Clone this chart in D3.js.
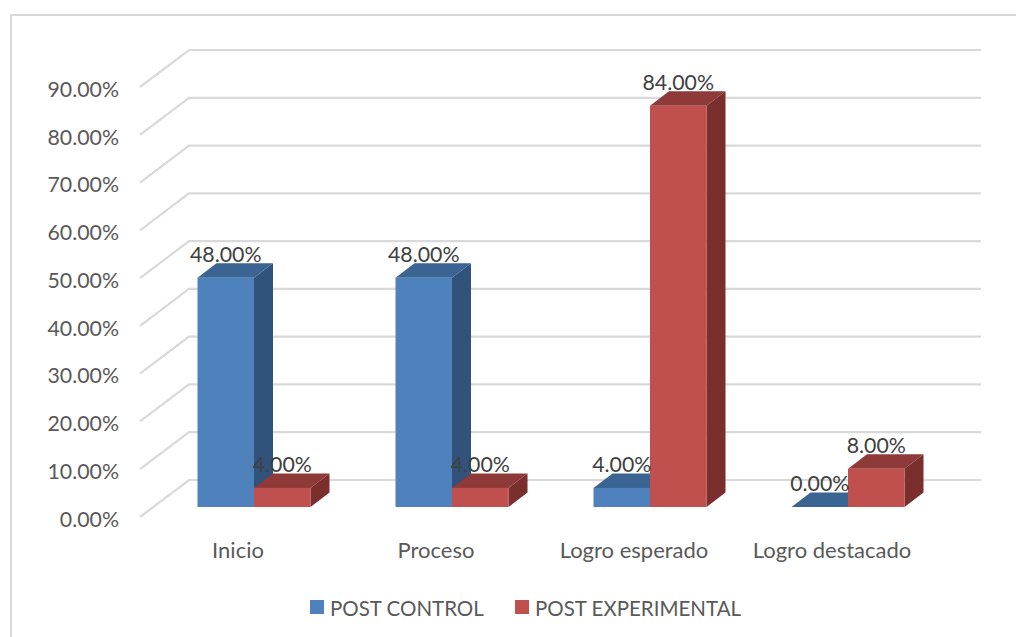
<!DOCTYPE html>
<html>
<head>
<meta charset="utf-8">
<script src="https://cdn.jsdelivr.net/npm/d3@7"></script>
<style>
  html, body { margin: 0; padding: 0; background: #fff; }
  svg { display: block; }
  text { font-family: Lato, "Open Sans", sans-serif; }
</style>
</head>
<body>
<div id="chart"></div>
<script>
const categories = ["Inicio", "Proceso", "Logro esperado", "Logro destacado"];
const postControl = [48, 48, 4, 0];
const postExperimental = [4, 4, 84, 8];
const seriesNames = ["POST CONTROL", "POST EXPERIMENTAL"];
const yTicks = [0, 10, 20, 30, 40, 50, 60, 70, 80, 90];

const width = 1016, height = 637;

// colours: face, top, side
const blue = { face: "#4f81bd", top: "#3a6491", side: "#31527a" };
const red = { face: "#c0504d", top: "#8e3a38", side: "#7b2f2d" };

const svg = d3.select("#chart").append("svg")
    .attr("width", width)
    .attr("height", height);

// outer frame, only top and left show in the picture
svg.append("path")
    .attr("d", d3.line()([[11, height], [11, 15], [width, 15]]))
    .attr("fill", "none")
    .attr("stroke", "#d9d9d9")
    .attr("stroke-width", 2);

// front plane of the 3d box
const x = d3.scaleBand().domain(categories).range([140, 932]);
const y = d3.scaleLinear().domain([0, 90]).range([517, 87]);

// depth of the floor, and where the bars sit in it
const depth = { dx: 49, dy: -37 };
const barFront = { dx: 15, dy: -10 };
const barDepth = { dx: 19, dy: -14.5 };
const barWidth = 56.5;

// gridlines: side wall then back wall
const grid = svg.append("g");
grid.selectAll("path")
  .data(yTicks)
  .join("path")
    .attr("d", d => {
      const p = d3.path();
      p.moveTo(x.range()[0], y(d));
      p.lineTo(x.range()[0] + depth.dx, y(d) + depth.dy);
      p.lineTo(x.range()[1] + depth.dx, y(d) + depth.dy);
      return p.toString();
    })
    .attr("fill", "none")
    .attr("stroke", "#d9d9d9")
    .attr("stroke-width", 2.2);

// y axis
const yAxis = svg.append("g")
    .attr("transform", "translate(126,2.5)")
    .call(d3.axisLeft(y).tickValues(yTicks).tickSize(0).tickPadding(7).tickFormat(d => d3.format(".2f")(d) + "%"));
yAxis.select(".domain").remove();
yAxis.selectAll("text")
    .attr("font-size", 21.3)
    .attr("font-family", 'Lato, "Open Sans", sans-serif')
    .attr("fill", "#595959");

// x axis
const xAxis = svg.append("g")
    .attr("transform", "translate(-1,534)")
    .call(d3.axisBottom(x).tickSize(0).tickPadding(8));
xAxis.select(".domain").remove();
xAxis.selectAll("text")
    .attr("font-size", 22)
    .attr("font-family", 'Lato, "Open Sans", sans-serif')
    .attr("fill", "#595959");

function drawBar(g, left, value, c) {
  const top = y(value) + barFront.dy;
  const bottom = y(0) + barFront.dy;
  const right = left + barWidth;
  const dx = barDepth.dx, dy = barDepth.dy;
  g.append("path")
      .attr("d", `M${right},${top}L${right + dx},${top + dy}L${right + dx},${bottom + dy}L${right},${bottom}Z`)
      .attr("fill", c.side);
  g.append("path")
      .attr("d", `M${left},${top}L${left + dx},${top + dy}L${right + dx},${top + dy}L${right},${top}Z`)
      .attr("fill", c.top);
  g.append("rect")
      .attr("x", left).attr("y", top)
      .attr("width", barWidth).attr("height", bottom - top)
      .attr("fill", c.face);
}

const bars = svg.append("g");
const labels = [];
categories.forEach((cat, i) => {
  const center = x(cat) + x.bandwidth() / 2 + barFront.dx;
  drawBar(bars, center - barWidth, postControl[i], blue);
  drawBar(bars, center, postExperimental[i], red);
  labels.push({ x: center - barWidth / 2, v: postControl[i] });
  labels.push({ x: center + barWidth / 2, v: postExperimental[i] });
});

// data labels go over all the bars
svg.append("g").selectAll("text")
  .data(labels)
  .join("text")
    .attr("x", d => d.x)
    .attr("y", d => y(d.v) + barFront.dy - 16)
    .attr("text-anchor", "middle")
    .attr("font-size", 21.3)
    .attr("fill", "#404040")
    .text(d => d3.format(".2f")(d.v) + "%");

// legend
const legendX = [310, 515];
const legend = svg.append("g").selectAll("g")
  .data(seriesNames)
  .join("g")
    .attr("transform", (d, i) => `translate(${legendX[i]},600)`);
legend.append("rect")
    .attr("width", 14).attr("height", 14)
    .attr("fill", (d, i) => [blue, red][i].face);
legend.append("text")
    .attr("x", 20).attr("y", 15.5)
    .attr("font-size", 20.5)
    .attr("fill", "#595959")
    .text(d => d);
</script>
</body>
</html>
